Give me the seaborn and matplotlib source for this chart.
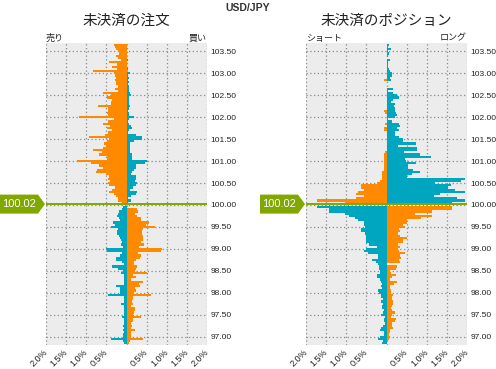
import numpy as np
import pandas as pd
import matplotlib
matplotlib.use("Agg")
import matplotlib.pyplot as plt
import seaborn as sns
from matplotlib.patches import Polygon

# ---------------- data ----------------
pair_name = "USD/JPY"
current_price = 100.02
price_label = "100.02"
panel_titles = ["未決済の注文", "未決済のポジション"]
left_side_labels = ["売り", "ショート"]
right_side_labels = ["買い", "ロング"]

above_top = 103.65   # centre of highest bucket above current price
below_top = 99.95    # centre of highest bucket below current price
bucket_step = 0.05

# Open orders (%), buckets above the current price, from top down
order_above_left = [.31, .28, .25, .22, .18, .25, .20, .14, .43, .24,
                    .37, .24, .83, .31, .28, .27, .28, .27, .25, .22,
                    .28, .21, .58, .39, .48, .37, .38, .39, .70, .46,
                    .45, .48, .45, 1.17, .31, .46, .58, .42, .48, .35,
                    .46, .53, .93, .43, .49, .55, .52, .58, .83, .60,
                    .68, .49, .48, 1.23, .88, .68, .58, .73, .76, .52,
                    .43, .45, .42, .46, .43, .28, .37, .43, .31, .27,
                    .21, .21, .10]
order_above_right = [.02, .01, .01, .01, .01, .01, .01, .03, .02, .02,
                     .02, .03, .02, .08, .03, .05, .03, .07, .03, .07,
                     .05, .07, .08, .11, .05, .07, .05, .07, .08, .05,
                     .03, .05, .05, .18, .05, .03, .07, .12, .13, .05,
                     .03, .23, .38, .38, .19, .08, .08, .08, .08, .08,
                     .13, .13, .13, .51, .47, .23, .23, .19, .13, .12,
                     .23, .23, .22, .25, .23, .15, .08, .26, .23, .11,
                     .03, .11, .02]
# Open orders (%), buckets below the current price, from top down
order_below_left = [.08, .10, .18, .20, .23, .18, .16, .33, .28, .38,
                    .20, .23, .23, .18, .17, .14, .12, .14, .08, .51,
                    .48, .12, .15, .25, .25, .10, .07, .35, .21, .08,
                    .13, .07, .07, .05, .07, .05, .25, .16, .15, .15,
                    .45, .07, .07, .07, .13, .05, .05, .06, .07, .05,
                    .10, .05, .05, .05, .08, .05, .08, .07, .08, .08,
                    .38, .08, .07]
order_below_right = [.02, .27, .28, .22, .27, .36, .37, .56, .48, .71,
                     .40, .38, .38, .42, .42, .42, .36, .44, .32, .88,
                     .86, .28, .36, .33, .23, .18, .19, .25, .23, .22,
                     .51, .15, .23, .11, .42, .32, .33, .20, .23, .18,
                     .61, .17, .17, .13, .17, .11, .22, .21, .18, .15,
                     .36, .17, .15, .11, .13, .11, .21, .11, .12, .12,
                     .42, .08, .05]

# Open positions (%), buckets above the current price, from top down
pos_above_left = [0, 0, 0, 0, 0, 0, 0, 0, 0, 0,
                  0, 0, 0, 0, 0, 0, .05, 0, 0, 0,
                  0, 0, 0, 0, 0, 0, 0, 0, 0, 0,
                  .05, .04, 0, 0, 0, 0, .04, 0, .05, .05,
                  0, 0, 0, 0, 0, 0, 0, 0, 0, .04,
                  .05, .07, .07, .07, .07, .07, .07, .07, .12, .12,
                  .12, .12, .17, .23, .64, .64, .57, .71, .77, .57,
                  .77, 1.73, 1.04]
pos_above_right = [.06, .03, .10, .04, .05, .03, .02, .08, .03, .03,
                   .03, .05, .08, .13, .13, .08, .11, .02, .02, .02,
                   .15, .04, .15, .25, .30, .17, .10, .21, .19, .22,
                   .21, .23, .25, .22, .03, .13, .30, .33, .27, .30,
                   .21, .22, .32, .40, .42, .73, .29, .75, .75, .43,
                   .82, 1.10, .46, .48, .73, .54, .54, .65, .83, .63,
                   .50, 1.95, 1.85, 1.21, 1.61, 1.54, 1.71, 1.95, 1.33, 1.17,
                   1.75, 1.95, 1.63]
# Open positions (%), buckets below the current price, from top down
pos_below_left = [1.73, 1.42, 1.42, 1.02, .93, .79, .71, .57, .57, .54,
                  .63, .63, .54, .50, .50, .52, .50, .43, .23, .50,
                  .57, .46, .21, .21, .36, .27, .21, .18, .18, .15,
                  .15, .23, .23, .17, .14, .12, .14, .10, .21, .18,
                  .13, .13, .08, .13, .08, .10, .10, .07, .08, .14,
                  .04, .07, .07, .04, .08, .14, .17, .06, .06, .17,
                  .21, .08, .10]
pos_below_right = [1.63, 1.63, 1.13, .71, 1.13, .86, .50, .50, .42, .46,
                   .31, .33, .29, .33, .52, .42, .40, .29, .33, .29,
                   .32, .46, .33, .35, .31, .33, .02, .25, .23, .08,
                   .10, .23, .13, .08, .27, .18, .08, .08, .12, .10,
                   .17, .13, .13, .17, .15, .13, .11, .13, .21, .13,
                   .10, .23, .21, .13, .13, .15, .08, .08, .06, .08,
                   .07, .04, .02]

ytick_values = [97.0, 97.5, 98.0, 98.5, 99.0, 99.5, 100.0,
                100.5, 101.0, 101.5, 102.0, 102.5, 103.0, 103.5]
xtick_values = [-2.0, -1.5, -1.0, -0.5, 0.0, 0.5, 1.0, 1.5, 2.0]
xtick_labels = ["2.0%", "1.5%", "1.0%", "0.5%", "", "0.5%", "1.0%", "1.5%", "2.0%"]

# ---------------- style ----------------
ORANGE = "#ff8a00"
TEAL = "#00a5c0"
GREEN = "#80a800"
BG = "#ececec"
GRID = "#8a8a8a"

sns.set_theme(style="white", rc={"axes.facecolor": BG, "figure.facecolor": "white"})
plt.rcParams["font.family"] = ["Liberation Sans", "Noto Sans CJK JP", "DejaVu Sans"]

W, H = 496, 369
fig = plt.figure(figsize=(W / 100, H / 100), dpi=100)

ax_top_px, ax_bot_px, ax_w_px = 43, 345, 161
ax_lefts_px = [46, 306]
ylim = (96.81, 103.69)


def panel_frame(a_left, a_right, b_left, b_right):
    pa = np.round(above_top - bucket_step * np.arange(len(a_left)), 2)
    pb = np.round(below_top - bucket_step * np.arange(len(b_left)), 2)
    frames = [
        pd.DataFrame({"price": pa, "value": -np.asarray(a_left, float), "side": "orange"}),
        pd.DataFrame({"price": pa, "value": np.asarray(a_right, float), "side": "teal"}),
        pd.DataFrame({"price": pb, "value": -np.asarray(b_left, float), "side": "teal"}),
        pd.DataFrame({"price": pb, "value": np.asarray(b_right, float), "side": "orange"}),
    ]
    return pd.concat(frames, ignore_index=True)


frames = [
    panel_frame(order_above_left, order_above_right, order_below_left, order_below_right),
    panel_frame(pos_above_left, pos_above_right, pos_below_left, pos_below_right),
]

for i, df in enumerate(frames):
    left_px = ax_lefts_px[i]
    ax = fig.add_axes([left_px / W, (H - ax_bot_px) / H, ax_w_px / W,
                       (ax_bot_px - ax_top_px) / H])
    ax.set_axisbelow(True)
    sns.barplot(data=df, x="value", y="price", hue="side",
                palette={"orange": ORANGE, "teal": TEAL},
                orient="y", native_scale=True, dodge=False, width=1.0,
                errorbar=None, saturation=1, linewidth=0, legend=False, ax=ax)
    for p in ax.patches:
        p.set_antialiased(False)
    ax.set_xlim(-2.0, 2.0)
    ax.set_ylim(*ylim)
    ax.set_xlabel("")
    ax.set_ylabel("")
    for s in ax.spines.values():
        s.set_visible(False)
    ax.grid(True, color=GRID, linestyle=(0, (1, 2)), linewidth=0.9)
    ax.set_yticks(ytick_values)
    ax.set_yticklabels([f"{v:.2f}" for v in ytick_values])
    ax.yaxis.tick_right()
    ax.set_xticks(xtick_values)
    ax.set_xticklabels(xtick_labels)
    ax.tick_params(axis="both", length=0, colors="#222222")
    ax.tick_params(axis="y", pad=2.5, labelsize=6)
    ax.tick_params(axis="x", pad=4, labelsize=6.5)
    for lab in ax.get_xticklabels():
        lab.set_rotation(45)
        lab.set_ha("right")
        lab.set_va("center")
        lab.set_rotation_mode("anchor")

    ax.axhline(current_price, color=GREEN, linewidth=1.4, zorder=3)

    cx = (left_px + ax_w_px / 2) / W
    fig.text(cx, 1 - 21 / H, panel_titles[i], ha="center", va="center",
             fontsize=10.5, color="#222222",
             family=["Noto Sans CJK JP", "DejaVu Sans"])
    fig.text(left_px / W, 1 - 38 / H, left_side_labels[i], ha="left", va="center",
             fontsize=6.5, color="#222222", family=["Noto Sans CJK JP", "DejaVu Sans"])
    fig.text((left_px + ax_w_px) / W, 1 - 38 / H, right_side_labels[i], ha="right",
             va="center", fontsize=6.5, color="#222222",
             family=["Noto Sans CJK JP", "DejaVu Sans"])

    # price tag
    y_disp = ax.transData.transform((0, current_price))[1]
    yf = y_disp / H
    hh = 9.5 / H
    x0 = (left_px - 46) / W
    x1 = (left_px - 8) / W
    xt = (left_px - 1) / W
    tag = Polygon([(x0, yf - hh), (x1, yf - hh), (xt, yf), (x1, yf + hh), (x0, yf + hh)],
                  closed=True, transform=fig.transFigure, facecolor=GREEN,
                  edgecolor="none", clip_on=False)
    fig.add_artist(tag)
    fig.text((left_px - 27) / W, yf, price_label, ha="center", va="center",
             fontsize=8, color="white")

fig.text(0.5, 1 - 8 / H, pair_name, ha="center", va="center", fontsize=7.5,
         fontweight="bold", color="#333333")

fig.savefig("out.png", dpi=100)
